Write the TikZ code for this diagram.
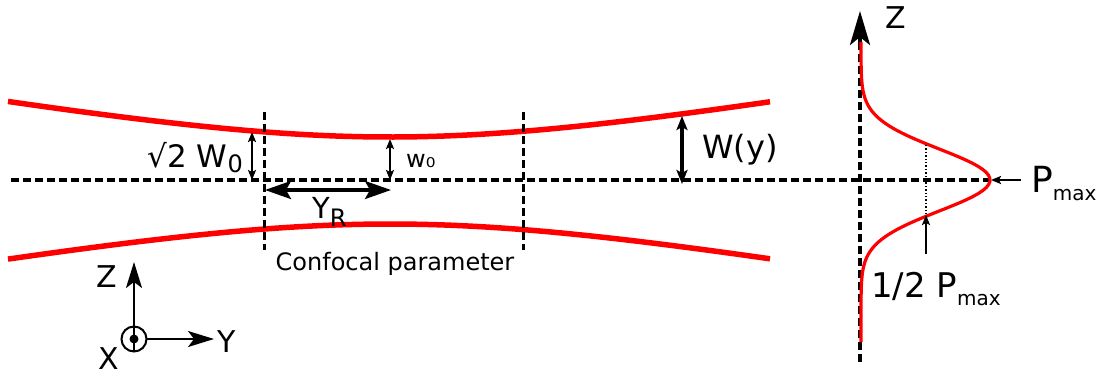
\documentclass[tikz,border=0pt]{standalone}
\usepackage{fontspec}
\setmainfont{DejaVu Sans}
\usetikzlibrary{arrows.meta}

\newcommand{\fsz}[1]{\fontsize{#1}{#1}\selectfont}
\newcommand{\lowsub}[2]{\raisebox{-#1pt}{\fsz{20}#2}}

\begin{document}
\begin{tikzpicture}[x=1pt,y=-1pt,
      every node/.style={inner sep=0pt},
      beam/.style={red,line width=5.5pt},
      profile/.style={red,line width=3.2pt},
      axisline/.style={line width=3.6pt,dash pattern=on 8pt off 4pt},
      confocal/.style={line width=3pt,dash pattern=on 8pt off 4pt},
      small arrow/.style={line width=2pt,{Stealth[length=10pt,width=8pt,inset=2pt]}-{Stealth[length=10pt,width=8pt,inset=2pt]}},
      wide arrow/.style={line width=3.4pt,{Stealth[length=14pt,width=11pt,inset=3pt]}-{Stealth[length=14pt,width=11pt,inset=3pt]}},
      rayleigh arrow/.style={line width=3.2pt,{Stealth[length=26pt,width=18pt,inset=5pt]}-{Stealth[length=26pt,width=18pt,inset=5pt]}},
      frame arrow/.style={line width=2pt,-{Stealth[length=26pt,width=16pt,inset=6pt]}},
      pointer/.style={line width=2pt,-{Stealth[length=10pt,width=8pt,inset=2pt]}}]
    \useasboundingbox (0,0) rectangle (1104,376);

    % beam envelope and axis
    \draw[axisline] (11,180) -- (990,180);
    \draw[beam] plot[domain=8:770,samples=80] (\x,{180-sqrt(1849+296*((\x-390)/100)^2)});
    \draw[beam] plot[domain=8:770,samples=80] (\x,{180+sqrt(1936+296*((\x-390)/100)^2)});
    \draw[confocal] (264,112) -- (264,250);
    \draw[confocal] (523,112) -- (523,250);

    \coordinate (rayleigh top) at (252,132);
    \coordinate (rayleigh axis) at (252,180);
    \coordinate (waist top) at (390,139);
    \coordinate (waist axis) at (390,180);
    \coordinate (far top) at (682,116);
    \coordinate (far axis) at (682,184);
    \coordinate (yr left) at (265,190);
    \coordinate (yr right) at (391,190);

    \draw[small arrow] (rayleigh top) -- (rayleigh axis);
    \draw[small arrow] (waist top) -- (waist axis);
    \draw[wide arrow] (far top) -- (far axis);
    \draw[rayleigh arrow] (yr left) -- (yr right);

    \node[anchor=base east] (sqrtw) at (243,167) {\fsz{31}√2 W\lowsub{5}{\fsz{24}0}};
    \node[anchor=base west] (wzero) at (406,167) {\fsz{24}w₀};
    \node[anchor=base west] (yr) at (312,218) {\fsz{29}Y\lowsub{8}{\fsz{24}R}};
    \node[anchor=base west] (wy) at (702,158) {\fsz{32}W(y)};
    \node[anchor=base] (conf) at (395,270) {\fsz{24}Confocal parameter};

    % frame
    \coordinate (origin) at (134,339);
    \coordinate (ztip) at (134,262);
    \coordinate (ytip) at (214,339);
    \draw[line width=2pt] (origin) circle (12.5);
    \fill (origin) circle (4.5);
    \draw[frame arrow] ([yshift=-12.5]origin) -- (ztip);
    \draw[frame arrow] ([xshift=12.5]origin) -- (ytip);
    \node[anchor=base] (zlab) at (107,287) {\fsz{30}Z};
    \node[anchor=base] (ylab) at (227,352) {\fsz{30}Y};
    \node[anchor=base] (xlab) at (109,369) {\fsz{30}X};

    % transverse profile
    \coordinate (pbottom) at (860,362);
    \coordinate (ptop) at (860,11);
    \draw[axisline] (pbottom) -- (860,46);
    \draw[line width=3.6pt,-{Stealth[length=34pt,width=20pt,inset=8pt]}] (860,48) -- (ptop);
    \node (pz) at (896,18) {\fsz{30}Z};
    \draw[profile] plot[domain=42:342,samples=100] ({861+129*exp(-((\x-180)/31)^2/2)},\x);

    \coordinate (half up) at (926,145);
    \coordinate (half down) at (926,218);
    \coordinate (half tail) at (926,254);
    \coordinate (peak) at (991,180);
    \coordinate (peak tail) at (1021,180);
    \draw[line width=1.4pt,dotted] (half up) -- (half down);
    \draw[pointer] (half tail) -- ([yshift=3]half down);
    \draw[pointer] (peak tail) -- (peak);
    \node[anchor=base west] (pmax) at (1031,192) {\fsz{36}P\lowsub{8}{max}};
    \node[anchor=base west] (phalf) at (871,297) {\fsz{34}1/2 P\lowsub{8}{max}};
\end{tikzpicture}
\end{document}
